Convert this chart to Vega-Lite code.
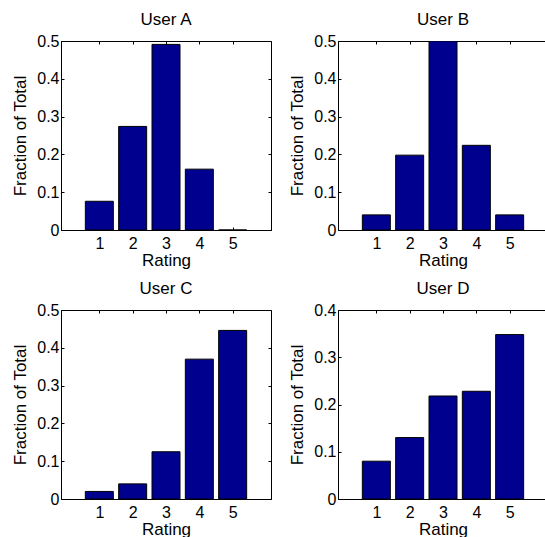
{
  "$schema": "https://vega.github.io/schema/vega-lite/v6.json",
  "datasets": {
    "ratings": [
      {"user": "User A", "rating": 1, "fraction": 0.076},
      {"user": "User A", "rating": 2, "fraction": 0.274},
      {"user": "User A", "rating": 3, "fraction": 0.491},
      {"user": "User A", "rating": 4, "fraction": 0.161},
      {"user": "User A", "rating": 5, "fraction": 0.0},
      {"user": "User B", "rating": 1, "fraction": 0.04},
      {"user": "User B", "rating": 2, "fraction": 0.198},
      {"user": "User B", "rating": 3, "fraction": 0.5},
      {"user": "User B", "rating": 4, "fraction": 0.224},
      {"user": "User B", "rating": 5, "fraction": 0.04},
      {"user": "User C", "rating": 1, "fraction": 0.02},
      {"user": "User C", "rating": 2, "fraction": 0.04},
      {"user": "User C", "rating": 3, "fraction": 0.125},
      {"user": "User C", "rating": 4, "fraction": 0.37},
      {"user": "User C", "rating": 5, "fraction": 0.446},
      {"user": "User D", "rating": 1, "fraction": 0.08},
      {"user": "User D", "rating": 2, "fraction": 0.13},
      {"user": "User D", "rating": 3, "fraction": 0.218},
      {"user": "User D", "rating": 4, "fraction": 0.228},
      {"user": "User D", "rating": 5, "fraction": 0.348}
    ]
  },
  "autosize": {"type": "pad"},
  "padding": {"left": 11, "top": 10, "right": 0, "bottom": 0},
  "bounds": "flush",
  "columns": 2,
  "spacing": {"row": 80, "column": 67},
  "concat": [
    {
      "title": "User A",
      "width": 210, "height": 189,
      "data": {"name": "ratings"},
      "transform": [{"filter": "datum.user == 'User A'"}],
      "resolve": {"axis": {"x": "independent", "y": "independent"}},
      "layer": [
        {
          "mark": {"type": "bar", "orient": "vertical", "width": 28, "color": "#00008F", "stroke": "black", "strokeWidth": 1, "clip": true},
          "encoding": {
            "x": {"field": "rating", "type": "quantitative", "scale": {"domain": [0, 6], "nice": false}, "axis": {"title": "Rating", "values": [1, 2, 3, 4, 5], "orient": "bottom"}},
            "y": {"field": "fraction", "type": "quantitative", "scale": {"domain": [0, 0.5], "nice": false}, "axis": {"title": "Fraction of Total", "values": [0, 0.1, 0.2, 0.3, 0.4, 0.5], "format": ".1~f", "orient": "left"}}
          }
        },
        {
          "mark": {"type": "bar", "orient": "vertical", "width": 28, "opacity": 0},
          "encoding": {
            "x": {"field": "rating", "type": "quantitative", "axis": {"title": null, "values": [1, 2, 3, 4, 5], "orient": "top", "labels": false, "domain": false}},
            "y": {"field": "fraction", "type": "quantitative", "axis": {"title": null, "values": [0, 0.1, 0.2, 0.3, 0.4, 0.5], "orient": "right", "labels": false, "domain": false}}
          }
        }
      ]
    },
    {
      "title": "User B",
      "width": 210, "height": 189,
      "data": {"name": "ratings"},
      "transform": [{"filter": "datum.user == 'User B'"}],
      "resolve": {"axis": {"x": "independent", "y": "independent"}},
      "layer": [
        {
          "mark": {"type": "bar", "orient": "vertical", "width": 28, "color": "#00008F", "stroke": "black", "strokeWidth": 1, "clip": true},
          "encoding": {
            "x": {"field": "rating", "type": "quantitative", "scale": {"domain": [0, 6], "nice": false}, "axis": {"title": "Rating", "values": [1, 2, 3, 4, 5], "orient": "bottom"}},
            "y": {"field": "fraction", "type": "quantitative", "scale": {"domain": [0, 0.5], "nice": false}, "axis": {"title": "Fraction of Total", "values": [0, 0.1, 0.2, 0.3, 0.4, 0.5], "format": ".1~f", "orient": "left"}}
          }
        },
        {
          "mark": {"type": "bar", "orient": "vertical", "width": 28, "opacity": 0},
          "encoding": {
            "x": {"field": "rating", "type": "quantitative", "axis": {"title": null, "values": [1, 2, 3, 4, 5], "orient": "top", "labels": false, "domain": false}},
            "y": {"field": "fraction", "type": "quantitative", "axis": {"title": null, "values": [0, 0.1, 0.2, 0.3, 0.4, 0.5], "orient": "right", "labels": false, "domain": false}}
          }
        }
      ]
    },
    {
      "title": "User C",
      "width": 210, "height": 189,
      "data": {"name": "ratings"},
      "transform": [{"filter": "datum.user == 'User C'"}],
      "resolve": {"axis": {"x": "independent", "y": "independent"}},
      "layer": [
        {
          "mark": {"type": "bar", "orient": "vertical", "width": 28, "color": "#00008F", "stroke": "black", "strokeWidth": 1, "clip": true},
          "encoding": {
            "x": {"field": "rating", "type": "quantitative", "scale": {"domain": [0, 6], "nice": false}, "axis": {"title": "Rating", "values": [1, 2, 3, 4, 5], "orient": "bottom"}},
            "y": {"field": "fraction", "type": "quantitative", "scale": {"domain": [0, 0.5], "nice": false}, "axis": {"title": "Fraction of Total", "values": [0, 0.1, 0.2, 0.3, 0.4, 0.5], "format": ".1~f", "orient": "left"}}
          }
        },
        {
          "mark": {"type": "bar", "orient": "vertical", "width": 28, "opacity": 0},
          "encoding": {
            "x": {"field": "rating", "type": "quantitative", "axis": {"title": null, "values": [1, 2, 3, 4, 5], "orient": "top", "labels": false, "domain": false}},
            "y": {"field": "fraction", "type": "quantitative", "axis": {"title": null, "values": [0, 0.1, 0.2, 0.3, 0.4, 0.5], "orient": "right", "labels": false, "domain": false}}
          }
        }
      ]
    },
    {
      "title": "User D",
      "width": 210, "height": 189,
      "data": {"name": "ratings"},
      "transform": [{"filter": "datum.user == 'User D'"}],
      "resolve": {"axis": {"x": "independent", "y": "independent"}},
      "layer": [
        {
          "mark": {"type": "bar", "orient": "vertical", "width": 28, "color": "#00008F", "stroke": "black", "strokeWidth": 1, "clip": true},
          "encoding": {
            "x": {"field": "rating", "type": "quantitative", "scale": {"domain": [0, 6], "nice": false}, "axis": {"title": "Rating", "values": [1, 2, 3, 4, 5], "orient": "bottom"}},
            "y": {"field": "fraction", "type": "quantitative", "scale": {"domain": [0, 0.4], "nice": false}, "axis": {"title": "Fraction of Total", "values": [0, 0.1, 0.2, 0.3, 0.4], "format": ".1~f", "orient": "left"}}
          }
        },
        {
          "mark": {"type": "bar", "orient": "vertical", "width": 28, "opacity": 0},
          "encoding": {
            "x": {"field": "rating", "type": "quantitative", "axis": {"title": null, "values": [1, 2, 3, 4, 5], "orient": "top", "labels": false, "domain": false}},
            "y": {"field": "fraction", "type": "quantitative", "axis": {"title": null, "values": [0, 0.1, 0.2, 0.3, 0.4], "orient": "right", "labels": false, "domain": false}}
          }
        }
      ]
    }
  ],
  "config": {
    "font": "Liberation Sans",
    "view": {"stroke": "black", "strokeWidth": 1},
    "title": {"fontSize": 17, "fontWeight": "normal", "color": "black", "offset": 0, "anchor": "middle"},
    "axis": {
      "grid": false,
      "domainColor": "black",
      "domainWidth": 1,
      "tickColor": "black",
      "tickSize": -3,
      "tickWidth": 1,
      "labelFont": "Liberation Sans",
      "labelFontSize": 16,
      "labelColor": "black",
      "labelPadding": 5,
      "titleFont": "Liberation Sans",
      "titleFontSize": 17,
      "titleFontWeight": "normal",
      "titleColor": "black",
      "titlePadding": 7
    },
    "axisX": {"labelPadding": 8, "titlePadding": 1}
  }
}
